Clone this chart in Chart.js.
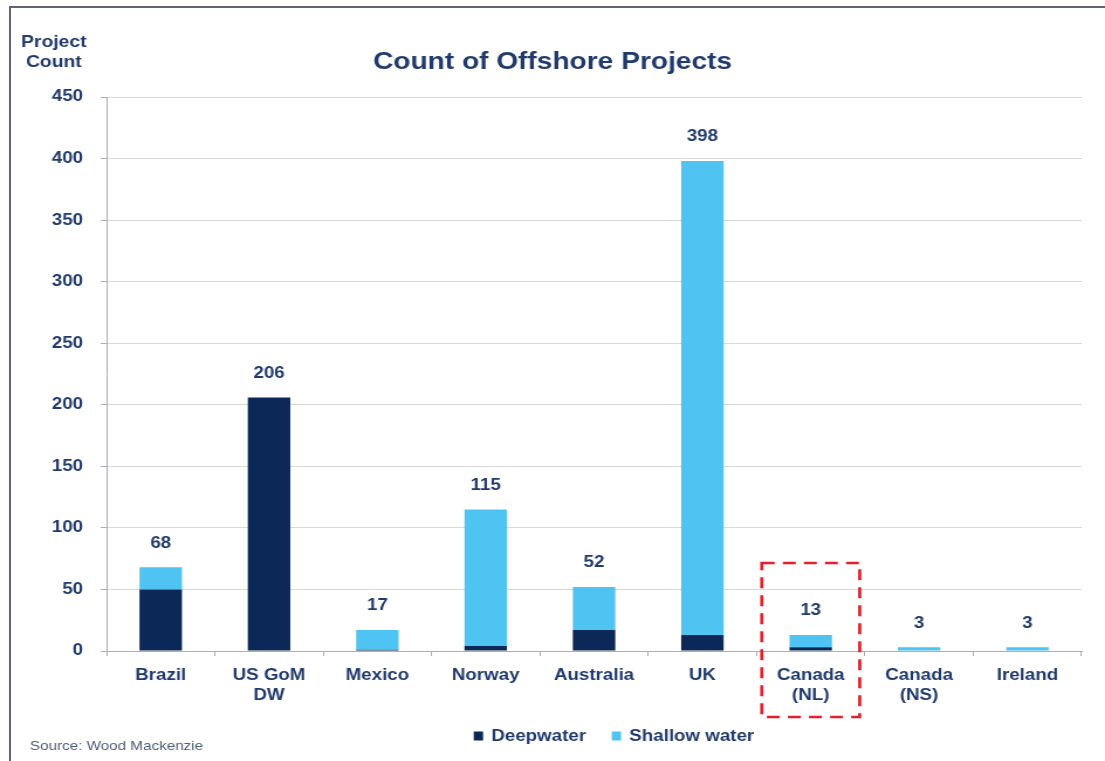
<!DOCTYPE html>
<html>
<head>
<meta charset="utf-8">
<title>Count of Offshore Projects</title>
<script src="https://cdn.jsdelivr.net/npm/chart.js@4"></script>
<style>
  html, body { margin: 0; padding: 0; background: #ffffff; }
  #wrap { position: relative; width: 1105px; height: 761px; overflow: hidden; }
  #frame { position: absolute; left: 9px; top: 6px; right: -4px; bottom: -4px;
           border-top: 2px solid #5b6479; border-left: 2px solid #5b6479; pointer-events: none; }
</style>
</head>
<body>
<div id="wrap">
  <!-- laid out at a narrower internal width and widened to the page width -->
  <canvas id="c" width="944" height="761" style="display:block;width:1105px;height:761px"></canvas>
  <div id="frame"></div>
</div>
<script>
// Project counts by region
const categories = [
  ['Brazil'], ['US GoM', 'DW'], ['Mexico'], ['Norway'], ['Australia'],
  ['UK'], ['Canada', '(NL)'], ['Canada', '(NS)'], ['Ireland']
];
const deepwater    = [50, 206, 1, 4, 17, 13, 3, 0, 0];
const shallowWater = [18,   0, 16, 111, 35, 385, 10, 3, 3];
const yTicks = [0, 50, 100, 150, 200, 250, 300, 350, 400, 450];
const seriesNames = ['Deepwater', 'Shallow water'];
const highlightIndex = 6;   // Canada (NL)

const NAVY = '#0b2857';
const SKY = '#4fc4f2';
const TEXT = '#203a6c';
const FONT = 'Arial, "Liberation Sans", sans-serif';

Chart.defaults.font.family = FONT;

const extras = {
  id: 'extras',
  afterDatasetsDraw(chart) {
    const ctx = chart.ctx;
    const xs = chart.scales.x, ys = chart.scales.y;
    const ds0 = chart.data.datasets[0].data, ds1 = chart.data.datasets[1].data;
    ctx.save();
    // totals above each stacked bar
    ctx.fillStyle = TEXT;
    ctx.font = 'bold 16px ' + FONT;
    ctx.textAlign = 'center';
    ctx.textBaseline = 'middle';
    ds0.forEach((v, i) => {
      const total = v + ds1[i];
      ctx.fillText(String(total), xs.getPixelForValue(i), ys.getPixelForValue(total) - 24);
    });

    // axis caption
    ctx.font = 'bold 16.5px ' + FONT;
    ctx.fillText('Project', 46, 42);
    ctx.fillText('Count', 46, 62);

    // legend
    ctx.font = 'bold 16px ' + FONT;
    const boxW = 8, boxH = 9, gap = 7, itemGap = 22;
    const colors = chart.data.datasets.map(d => d.backgroundColor);
    const labels = chart.data.datasets.map(d => d.label);
    const widths = labels.map(l => ctx.measureText(l).width);
    let total = 0;
    widths.forEach((w, i) => { total += boxW + gap + w + (i < widths.length - 1 ? itemGap : 0); });
    let x = 524.5 - total / 2;
    const ly = 736;
    ctx.textAlign = 'left';
    labels.forEach((l, i) => {
      ctx.fillStyle = colors[i];
      ctx.fillRect(x, ly - boxH / 2, boxW, boxH);
      x += boxW + gap;
      ctx.fillStyle = TEXT;
      ctx.fillText(l, x, ly + 1);
      x += widths[i] + itemGap;
    });

    // source note
    ctx.font = '13px ' + FONT;
    ctx.fillStyle = '#4d5a78';
    ctx.fillText('Source: Wood Mackenzie', 25.6, 746);

    // dashed highlight around one region
    const cw = (xs.right - xs.left) / categories.length;
    const cx = xs.getPixelForValue(highlightIndex);
    const top = ys.bottom - 88, bottom = ys.bottom + 66;
    ctx.strokeStyle = '#e3202b';
    ctx.lineWidth = 2.7;
    ctx.setLineDash([11, 7]);
    ctx.strokeRect(cx - 0.452 * cw, top, 0.904 * cw, bottom - top);
    ctx.restore();
  }
};

new Chart(document.getElementById('c'), {
  type: 'bar',
  data: {
    labels: categories,
    datasets: [
      { label: seriesNames[0], data: deepwater, backgroundColor: NAVY,
        categoryPercentage: 0.8, barPercentage: 0.49 },
      { label: seriesNames[1], data: shallowWater, backgroundColor: SKY,
        categoryPercentage: 0.8, barPercentage: 0.49 }
    ]
  },
  options: {
    responsive: false,
    animation: false,
    devicePixelRatio: 1,
    layout: { padding: { top: 10, left: 20, right: 20, bottom: 0 } },
    plugins: {
      legend: { display: false },
      tooltip: { enabled: false },
      title: {
        display: true,
        text: 'Count of Offshore Projects',
        color: TEXT,
        font: { size: 24, weight: 'bold', lineHeight: 1.2 },
        padding: { top: 37.6, bottom: 20.6 }
      }
    },
    scales: {
      x: {
        stacked: true,
        afterFit(s) { s.height = 110; },
        grid: { display: true, drawOnChartArea: false, drawTicks: true, tickLength: 5,
                color: '#a9adb6', offset: true },
        border: { display: true, color: '#a9adb6', width: 1 },
        ticks: { color: TEXT, font: { size: 16, weight: 'bold', lineHeight: 1.25 },
                 padding: 10, maxRotation: 0, autoSkip: false }
      },
      y: {
        stacked: true,
        min: 0, max: 450,
        afterFit(s) { s.width = 71; },
        afterBuildTicks(s) { s.ticks = yTicks.map(v => ({ value: v })); },
        grid: { color: '#d9d9d9', tickColor: '#a9adb6', tickLength: 5, lineWidth: 1 },
        border: { display: true, color: '#a9adb6', width: 1 },
        ticks: { color: TEXT, font: { size: 16, weight: 'bold' }, padding: 15 }
      }
    }
  },
  plugins: [extras]
});
</script>
</body>
</html>
